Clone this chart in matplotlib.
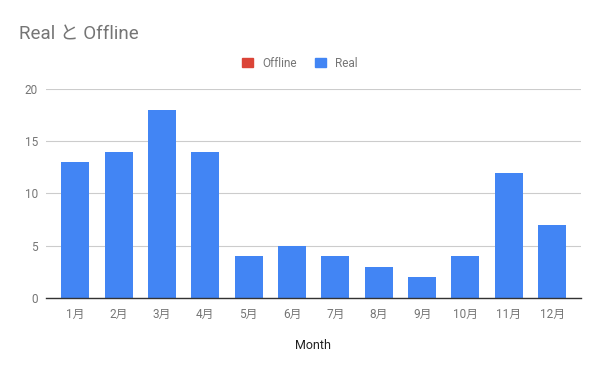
import matplotlib
matplotlib.use("Agg")
import matplotlib.pyplot as plt
from matplotlib.patches import Patch

plt.rcParams["font.family"] = ["Roboto", "Noto Sans CJK JP", "DejaVu Sans"]

# データ
months = ["1月", "2月", "3月", "4月", "5月", "6月", "7月", "8月", "9月", "10月", "11月", "12月"]
real = [13, 14, 18, 14, 4, 5, 4, 3, 2, 4, 12, 7]
offline = [0, 0, 0, 0, 0, 0, 0, 0, 0, 0, 0, 0]
y_ticks = [0, 5, 10, 15, 20]

RED = "#DB4437"
BLUE = "#4285F4"
GRAY = "#757575"

fig = plt.figure(figsize=(6, 3.71), dpi=100)
ax = fig.add_axes([0.077, 0.197, 0.891, 0.563])

x = list(range(len(months)))
ax.bar(x, offline, width=0.645, color=RED, zorder=3)
ax.bar(x, real, bottom=offline, width=0.645, color=BLUE, zorder=3)

ax.set_xlim(-0.67, 11.66)
ax.set_ylim(0, 20)
ax.set_yticks(y_ticks)
ax.set_xticks(x)
ax.set_xticklabels(months)
ax.tick_params(axis="both", length=0, labelsize=8.5, colors=GRAY, pad=7)
ax.tick_params(axis="y", pad=6)
ax.yaxis.grid(True, color="#cccccc", linewidth=0.8, zorder=0)
for s in ["top", "right", "left"]:
    ax.spines[s].set_visible(False)
ax.spines["bottom"].set_color("#333333")
ax.spines["bottom"].set_linewidth(1)
ax.spines["bottom"].set_zorder(4)

ax.set_xlabel("Month", fontsize=9, color="#222222", labelpad=13)

fig.text(0.032, 0.893, "Real と Offline", fontsize=13.5, color=GRAY)

handles = [Patch(color=RED, label="Offline"), Patch(color=BLUE, label="Real")]
fig.legend(handles=handles, loc="center", bbox_to_anchor=(0.5, 0.83), ncol=2,
           frameon=False, fontsize=8.5, labelcolor=GRAY, handlelength=0.9,
           handleheight=0.9, handletextpad=0.8, columnspacing=1.6)

fig.savefig("out.png", dpi=100)
